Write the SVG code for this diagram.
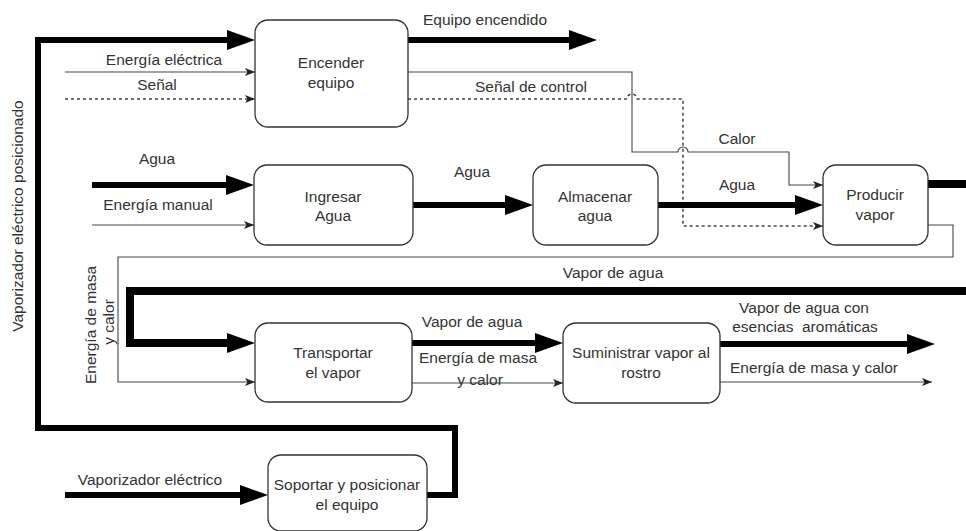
<svg xmlns="http://www.w3.org/2000/svg" width="966" height="531" viewBox="0 0 966 531">
  <defs>
    <style>
      .box { fill: #ffffff; stroke: #333333; stroke-width: 1.3; }
      .lbl { font-family: "Liberation Sans", Arial, sans-serif; font-size: 15.5px; fill: #333333; text-anchor: middle; }
      .thick { fill: none; stroke: #000000; stroke-width: 6; stroke-linejoin: miter; }
      .thicker { fill: none; stroke: #000000; stroke-width: 8; stroke-linejoin: miter; }
      .thin { fill: none; stroke: #444444; stroke-width: 1.1; }
      .dot { fill: none; stroke: #444444; stroke-width: 1.5; stroke-dasharray: 3 3; }
    </style>
    <marker id="bigHead" markerUnits="userSpaceOnUse" markerWidth="28" markerHeight="20" viewBox="0 0 28 20" refX="16" refY="10" orient="auto" overflow="visible">
      <path d="M0,0 L28,10 L0,20 z" fill="#000000"/>
    </marker>
    <marker id="smallHead" markerUnits="userSpaceOnUse" markerWidth="10" markerHeight="8" viewBox="0 0 10 8" refX="10" refY="4" orient="auto" overflow="visible">
      <path d="M0,0 L10,4 L0,8 L2.5,4 z" fill="#222222"/>
    </marker>
  </defs>

  <rect width="966" height="531" fill="#ffffff"/>

  <!-- connectors -->
  <g id="connectors">
    <!-- positioned vaporizer loop from the stand back to the power-on block -->
    <path class="thick" d="M427,495 H455 V428 H38 V40 H243" marker-end="url(#bigHead)"/>
    <path class="thin" d="M65,72 H255" marker-end="url(#smallHead)"/>
    <path class="dot" d="M65,99 H255" marker-end="url(#smallHead)"/>
    <path class="thick" d="M408,40 H585" marker-end="url(#bigHead)"/>
    <!-- heat line to the steam producer, with a hop over the dotted control line -->
    <path class="thin" d="M408,72 H632 V152 H678 A5,5 0 0 1 688,152 H789 V185 H823" marker-end="url(#smallHead)"/>
    <!-- control signal, hopping over the heat line -->
    <path class="dot" d="M408,99 H627 A5,5 0 0 1 637,99 H683 V226 H823" marker-end="url(#smallHead)"/>
    <path class="thick" d="M92,185 H242" marker-end="url(#bigHead)"/>
    <path class="thin" d="M92,225 H254" marker-end="url(#smallHead)"/>
    <path class="thick" d="M413,205 H521" marker-end="url(#bigHead)"/>
    <path class="thick" d="M658,205 H811" marker-end="url(#bigHead)"/>
    <!-- steam from the producer to the transport block -->
    <path class="thicker" d="M928,184 H980 V291 H130 V343 H243" marker-end="url(#bigHead)"/>
    <path class="thin" d="M928,225 H953 V257 H118 V382 H255" marker-end="url(#smallHead)"/>
    <path class="thick" d="M412,343 H551" marker-end="url(#bigHead)"/>
    <path class="thin" d="M412,383 H563" marker-end="url(#smallHead)"/>
    <path class="thick" d="M720,344 H923" marker-end="url(#bigHead)"/>
    <path class="thin" d="M720,382 H932" marker-end="url(#smallHead)"/>
    <path class="thick" d="M65,495 H256" marker-end="url(#bigHead)"/>
  </g>

  <!-- connector labels -->
  <g id="labels">
    <text class="lbl" transform="translate(23,216) rotate(-90)">Vaporizador eléctrico posicionado</text>
    <text class="lbl" x="164" y="65">Energía eléctrica</text>
    <text class="lbl" x="157" y="90">Señal</text>
    <text class="lbl" x="485" y="25">Equipo encendido</text>
    <text class="lbl" x="531" y="92">Señal de control</text>
    <text class="lbl" x="737" y="144">Calor</text>
    <text class="lbl" x="157" y="164">Agua</text>
    <text class="lbl" x="158" y="210">Energía manual</text>
    <text class="lbl" x="472" y="177">Agua</text>
    <text class="lbl" x="737" y="190">Agua</text>
    <text class="lbl" x="613" y="278">Vapor de agua</text>
    <text class="lbl" transform="translate(96,325) rotate(-90)">Energía de masa</text>
    <text class="lbl" transform="translate(114,322) rotate(-90)">y calor</text>
    <text class="lbl" x="472" y="327">Vapor de agua</text>
    <text class="lbl" x="478" y="363">Energía de masa</text>
    <text class="lbl" x="480" y="385">y calor</text>
    <text class="lbl" x="804" y="313">Vapor de agua con</text>
    <text class="lbl" x="805" y="332" xml:space="preserve">esencias  aromáticas</text>
    <text class="lbl" x="814" y="373">Energía de masa y calor</text>
    <text class="lbl" x="150" y="485">Vaporizador eléctrico</text>
  </g>

  <!-- nodes -->
  <g id="encender-equipo">
    <rect class="box" x="255" y="20" width="153" height="107" rx="13"/>
    <text class="lbl" x="331" y="68">Encender</text>
    <text class="lbl" x="331" y="88">equipo</text>
  </g>
  <g id="ingresar-agua">
    <rect class="box" x="254" y="165" width="159" height="80" rx="13"/>
    <text class="lbl" x="333" y="202">Ingresar</text>
    <text class="lbl" x="333" y="221">Agua</text>
  </g>
  <g id="almacenar-agua">
    <rect class="box" x="533" y="165" width="125" height="80" rx="13"/>
    <text class="lbl" x="595" y="202">Almacenar</text>
    <text class="lbl" x="595" y="221">agua</text>
  </g>
  <g id="producir-vapor">
    <rect class="box" x="823" y="165" width="105" height="80" rx="13"/>
    <text class="lbl" x="875" y="200">Producir</text>
    <text class="lbl" x="875" y="220">vapor</text>
  </g>
  <g id="transportar-vapor">
    <rect class="box" x="255" y="323" width="157" height="79" rx="13"/>
    <text class="lbl" x="333" y="358">Transportar</text>
    <text class="lbl" x="333" y="378">el vapor</text>
  </g>
  <g id="suministrar-vapor">
    <rect class="box" x="563" y="323" width="157" height="80" rx="13"/>
    <text class="lbl" x="641" y="358">Suministrar vapor al</text>
    <text class="lbl" x="641" y="378">rostro</text>
  </g>
  <g id="soportar-equipo">
    <rect class="box" x="268" y="455" width="159" height="76" rx="13"/>
    <text class="lbl" x="347" y="490">Soportar y posicionar</text>
    <text class="lbl" x="347" y="510">el equipo</text>
  </g>
</svg>
